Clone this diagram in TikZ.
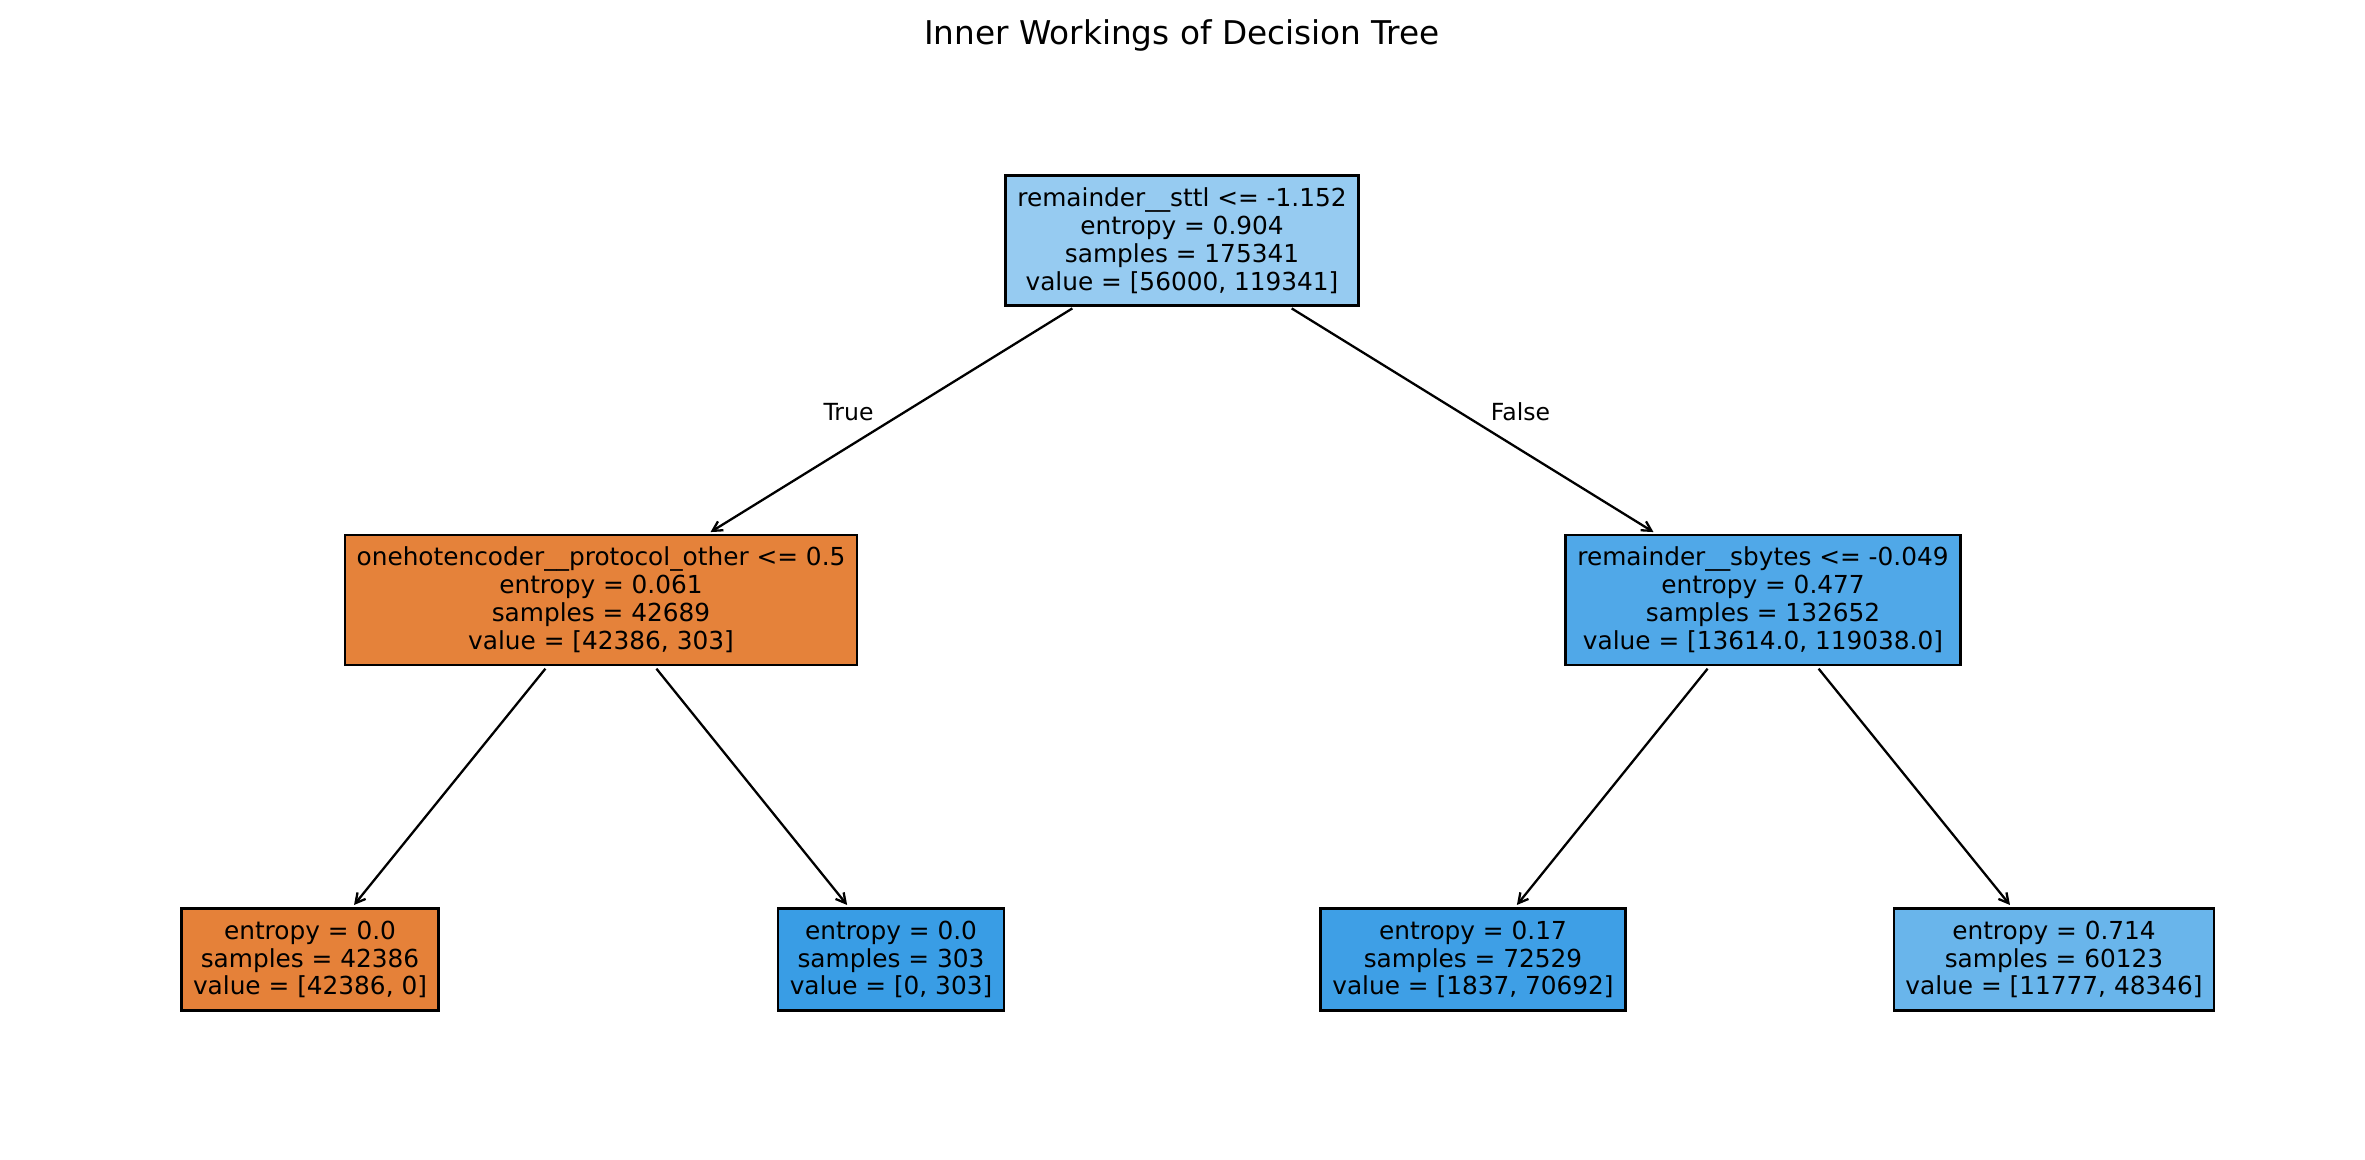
\documentclass[tikz,border=0pt]{standalone}
\usepackage{fontspec}
\setmainfont{DejaVu Sans}
\usetikzlibrary{arrows.meta}
\definecolor{racine}{RGB}{150,203,241}
\definecolor{orangeA}{RGB}{229,130,58}
\definecolor{orangeB}{RGB}{229,129,57}
\definecolor{bleuA}{RGB}{80,168,232}
\definecolor{bleuB}{RGB}{57,157,229}
\definecolor{bleuC}{RGB}{62,159,230}
\definecolor{bleuD}{RGB}{105,181,235}

\begin{document}
\begin{tikzpicture}[x=0.48pt, y=-0.48pt]
\tikzset{boite/.style={draw, line width=1.2pt, align=center, inner xsep=5.6pt, inner ysep=5.8pt, font=\fontsize{11.9}{13.4}\selectfont},
         fleche/.style={-{Straight Barb[length=4.6pt, width=5pt]}, line width=1.1pt, shorten <=1.5pt, shorten >=1.5pt},
         etiq/.style={font=\fontsize{11.3}{13.4}\selectfont}}
\useasboundingbox (0, 0) rectangle (2365, 1160);
\node[font=\fontsize{15.7}{18}\selectfont] (titre) at (1182, 35) {Inner Workings of Decision Tree};
\node[boite, fill=racine] (N0) at (1182, 240.5) {remainder\_\_sttl <= -1.152\\entropy = 0.904\\samples = 175341\\value = [56000, 119341]};
\node[boite, fill=orangeA] (N1) at (601, 600) {onehotencoder\_\_protocol\_other <= 0.5\\entropy = 0.061\\samples = 42689\\value = [42386, 303]};
\node[boite, fill=bleuA] (N2) at (1763, 600) {remainder\_\_sbytes <= -0.049\\entropy = 0.477\\samples = 132652\\value = [13614.0, 119038.0]};
\node[boite, fill=orangeB] (N3) at (310, 959.5) {entropy = 0.0\\samples = 42386\\value = [42386, 0]};
\node[boite, fill=bleuB] (N4) at (891, 959.5) {entropy = 0.0\\samples = 303\\value = [0, 303]};
\node[boite, fill=bleuC] (N5) at (1473, 959.5) {entropy = 0.17\\samples = 72529\\value = [1837, 70692]};
\node[boite, fill=bleuD] (N6) at (2054, 959.5) {entropy = 0.714\\samples = 60123\\value = [11777, 48346]};
\node[etiq] (vrai) at (848.5, 412) {True};
\node[etiq] (faux) at (1520.5, 412) {False};
\draw[fleche] (N0) -- (N1);
\draw[fleche] (N0) -- (N2);
\draw[fleche] (N1) -- (N3);
\draw[fleche] (N1) -- (N4);
\draw[fleche] (N2) -- (N5);
\draw[fleche] (N2) -- (N6);
\end{tikzpicture}
\end{document}
